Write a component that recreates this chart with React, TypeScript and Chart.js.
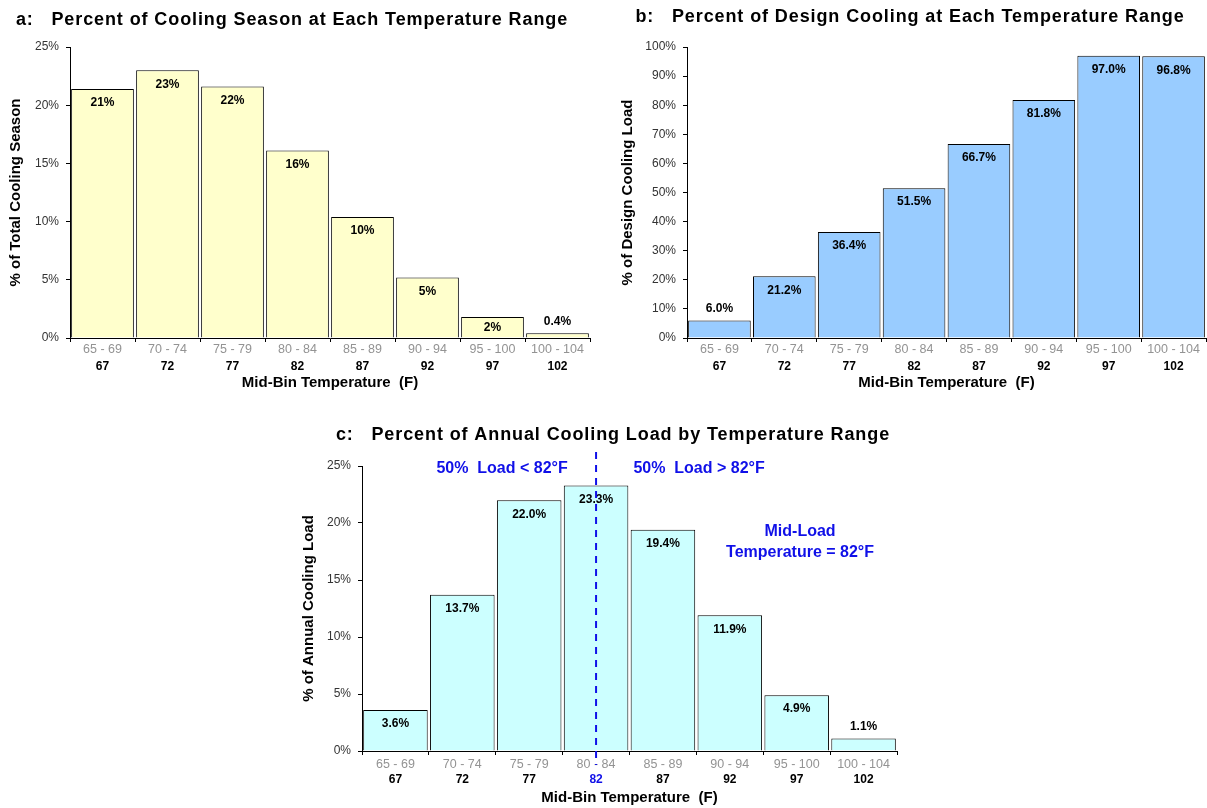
import React, { useEffect, useRef } from 'react';
import { Chart, registerables } from 'chart.js';

Chart.register(...registerables);

// ---------- data ----------
const binRanges = ['65 - 69', '70 - 74', '75 - 79', '80 - 84', '85 - 89', '90 - 94', '95 - 100', '100 - 104'];
const midTemps = ['67', '72', '77', '82', '87', '92', '97', '102'];

const seasonPct = [21.4, 23.0, 21.6, 16.1, 10.4, 5.2, 1.8, 0.4];
const seasonLabels = ['21%', '23%', '22%', '16%', '10%', '5%', '2%', '0.4%'];

const designPct = [6.0, 21.2, 36.4, 51.5, 66.7, 81.8, 97.0, 96.8];
const designLabels = ['6.0%', '21.2%', '36.4%', '51.5%', '66.7%', '81.8%', '97.0%', '96.8%'];

const loadPct = [3.6, 13.7, 22.0, 23.3, 19.4, 11.9, 4.9, 1.1];
const loadLabels = ['3.6%', '13.7%', '22.0%', '23.3%', '19.4%', '11.9%', '4.9%', '1.1%'];

const midLoadTemp = '82';

const FONT = "'Liberation Sans', Arial, sans-serif";
const BLUE = '#1010E8';

type Spec = {
  title: string;
  titleX: number;
  titleY: number;
  values: number[];
  valueLabels: string[];
  color: string;
  yMax: number;
  yStep: number;
  yTitle: string;
  yWidth: number;
  yTitlePad: number;
  padding: { top: number; left: number; right: number; bottom: number };
  x1H: number;
  x1TickPad: number;
  x2H: number;
  x2TickPad: number;
  x2TitlePadBottom: number;
  midLoad?: boolean;
};

function makeChart(canvas: HTMLCanvasElement, spec: Spec) {
  const titlePlugin = {
    id: 'fixedTitle',
    afterDraw(chart: any) {
      const ctx = chart.ctx;
      ctx.save();
      ctx.font = `bold 18px ${FONT}`;
      (ctx as any).letterSpacing = '0.9px';
      ctx.fillStyle = '#000';
      ctx.textAlign = 'center';
      ctx.textBaseline = 'middle';
      ctx.fillText(spec.title, spec.titleX, spec.titleY);
      ctx.restore();
    },
  };

  const labelPlugin = {
    id: 'barLabels',
    afterDatasetsDraw(chart: any) {
      const ctx = chart.ctx;
      const meta = chart.getDatasetMeta(0);
      ctx.save();
      ctx.font = `bold 12px ${FONT}`;
      ctx.fillStyle = '#000';
      ctx.textAlign = 'center';
      ctx.textBaseline = 'middle';
      meta.data.forEach((el: any, i: number) => {
        const h = el.base - el.y;
        const y = h >= 20 ? el.y + Math.min(14, h / 2) : el.y - 12;
        ctx.fillText(spec.valueLabels[i], el.x, y);
      });
      ctx.restore();
    },
  };

  const midLoadPlugin = {
    id: 'midLoad',
    afterDraw(chart: any) {
      if (!spec.midLoad) return;
      const ctx = chart.ctx;
      const area = chart.chartArea;
      const idx = midTemps.indexOf(midLoadTemp);
      const x = chart.scales.x.getPixelForValue(idx);
      ctx.save();
      ctx.strokeStyle = BLUE;
      ctx.lineWidth = 2;
      ctx.setLineDash([7, 6]);
      ctx.beginPath();
      ctx.moveTo(x, area.top - 14);
      ctx.lineTo(x, area.bottom + 14);
      ctx.stroke();
      ctx.setLineDash([]);
      ctx.fillStyle = BLUE;
      ctx.font = `bold 16px ${FONT}`;
      ctx.textAlign = 'center';
      ctx.textBaseline = 'middle';
      ctx.fillText(`50%  Load < ${midLoadTemp}°F`, x - 94, area.top + 3);
      ctx.fillText(`50%  Load > ${midLoadTemp}°F`, x + 103, area.top + 3);
      ctx.fillText('Mid-Load', x + 204, area.top + 66);
      ctx.fillText(`Temperature = ${midLoadTemp}°F`, x + 204, area.top + 87);
      ctx.restore();
    },
  };

  return new Chart(canvas, {
    type: 'bar',
    data: {
      labels: binRanges,
      datasets: [
        {
          data: spec.values,
          backgroundColor: spec.color,
          borderColor: '#000',
          borderWidth: 1,
          barPercentage: 0.965,
          categoryPercentage: 1,
        },
      ],
    },
    options: {
      animation: false,
      responsive: false,
      layout: { padding: spec.padding },
      plugins: {
        legend: { display: false },
        tooltip: { enabled: false },
        title: { display: false },
      },
      scales: {
        x: {
          type: 'category',
          position: 'bottom',
          weight: 0,
          offset: true,
          grid: {
            offset: true,
            drawOnChartArea: false,
            drawTicks: true,
            tickLength: 4,
            color: '#000',
          },
          border: { display: true, color: '#000', width: 1 },
          ticks: {
            autoSkip: false,
            maxRotation: 0,
            padding: spec.x1TickPad,
            color: '#939393',
            font: { family: FONT, size: 12.5 },
          },
          afterFit: (s: any) => {
            s.height = spec.x1H;
          },
        },
        x2: {
          type: 'category',
          position: 'bottom',
          weight: 1,
          offset: true,
          labels: midTemps,
          grid: { display: false, drawTicks: false, tickLength: 0 },
          border: { display: false },
          ticks: {
            autoSkip: false,
            maxRotation: 0,
            padding: spec.x2TickPad,
            color: (c: any) => (spec.midLoad && midTemps[c.index] === midLoadTemp ? BLUE : '#000'),
            font: { family: FONT, size: 12, weight: 'bold' },
          },
          title: {
            display: true,
            text: 'Mid-Bin Temperature  (F)',
            color: '#000',
            font: { family: FONT, size: 15, weight: 'bold' },
            padding: { top: 0, bottom: spec.x2TitlePadBottom },
          },
          afterFit: (s: any) => {
            s.height = spec.x2H;
          },
        },
        y: {
          type: 'linear',
          min: 0,
          max: spec.yMax,
          grid: {
            drawOnChartArea: false,
            drawTicks: true,
            tickLength: 4,
            color: '#000',
          },
          border: { display: true, color: '#000', width: 1 },
          ticks: {
            stepSize: spec.yStep,
            padding: 7,
            color: '#333',
            font: { family: FONT, size: 12 },
            callback: (v: any) => `${v}%`,
          },
          title: {
            display: true,
            text: spec.yTitle,
            color: '#000',
            font: { family: FONT, size: 15, weight: 'bold' },
            padding: { top: spec.yTitlePad, bottom: 0 },
          },
          afterFit: (s: any) => {
            s.width = spec.yWidth;
          },
        },
      },
    } as any,
    plugins: [labelPlugin, midLoadPlugin, titlePlugin],
  });
}

function Panel(props: { left: number; top: number; width: number; height: number; spec: Spec }) {
  const ref = useRef<HTMLCanvasElement | null>(null);
  useEffect(() => {
    if (!ref.current) return;
    const chart = makeChart(ref.current, props.spec);
    return () => chart.destroy();
  }, []);
  return (
    <canvas
      ref={ref}
      width={props.width}
      height={props.height}
      style={{
        position: 'absolute',
        left: props.left,
        top: props.top,
        width: props.width,
        height: props.height,
      }}
    />
  );
}

const specA: Spec = {
  title: 'a:   Percent of Cooling Season at Each Temperature Range',
  titleX: 292,
  titleY: 20,
  values: seasonPct,
  valueLabels: seasonLabels,
  color: '#FFFFCC',
  yMax: 25,
  yStep: 5,
  yTitle: '% of Total Cooling Season',
  yWidth: 70,
  yTitlePad: 7,
  padding: { top: 47, left: 0, right: 10, bottom: 0 },
  x1H: 20,
  x1TickPad: 0,
  x2H: 42,
  x2TickPad: 1,
  x2TitlePadBottom: 8,
};

const specB: Spec = {
  title: 'b:   Percent of Design Cooling at Each Temperature Range',
  titleX: 310,
  titleY: 17,
  values: designPct,
  valueLabels: designLabels,
  color: '#99CCFF',
  yMax: 100,
  yStep: 10,
  yTitle: '% of Design Cooling Load',
  yWidth: 73,
  yTitlePad: 5,
  padding: { top: 47, left: 14, right: 1, bottom: 0 },
  x1H: 20,
  x1TickPad: 0,
  x2H: 42,
  x2TickPad: 1,
  x2TitlePadBottom: 8,
};

const specC: Spec = {
  title: 'c:   Percent of Annual Cooling Load by Temperature Range',
  titleX: 323,
  titleY: 35,
  values: loadPct,
  valueLabels: loadLabels,
  color: '#CCFFFF',
  yMax: 25,
  yStep: 5,
  yTitle: '% of Annual Cooling Load',
  yWidth: 72,
  yTitlePad: 10,
  padding: { top: 66, left: 0, right: 13, bottom: 0 },
  x1H: 20,
  x1TickPad: 2,
  x2H: 37,
  x2TickPad: 1,
  x2TitlePadBottom: 1,
  midLoad: true,
};

export default function App() {
  return (
    <div style={{ position: 'absolute', left: 0, top: 0, width: 1207, height: 808, background: '#fff' }}>
      <Panel left={0} top={0} width={600} height={400} spec={specA} />
      <Panel left={600} top={0} width={607} height={400} spec={specB} />
      <Panel left={290} top={400} width={620} height={408} spec={specC} />
    </div>
  );
}
